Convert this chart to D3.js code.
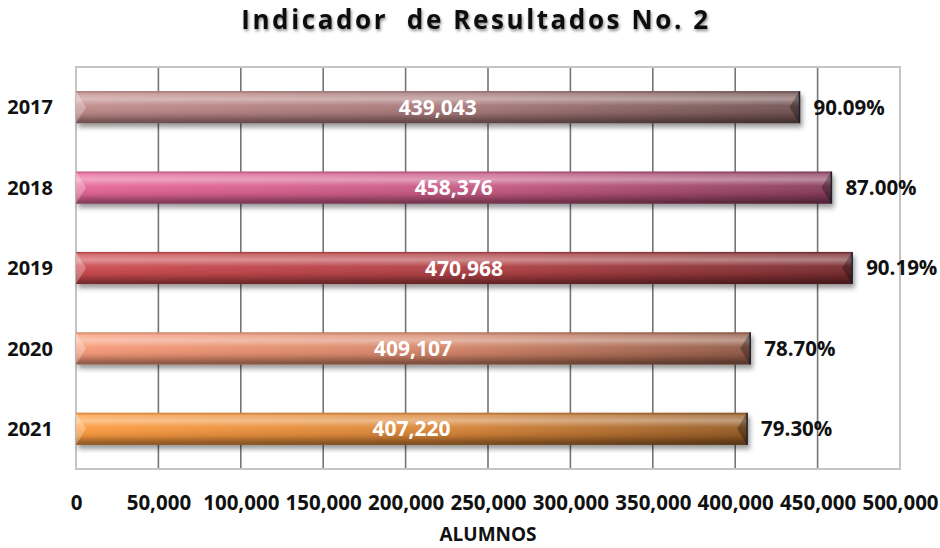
<!DOCTYPE html>
<html>
<head>
<meta charset="utf-8">
<script src="https://cdn.jsdelivr.net/npm/d3@7"></script>
<style>
  body { margin: 0; background: #fff; }
  text { font-family: "Open Sans", sans-serif; font-weight: bold; }
</style>
</head>
<body>
<div id="root"></div>
<script>
const years = ["2017", "2018", "2019", "2020", "2021"];
const alumnos = [439043, 458376, 470968, 409107, 407220];
const porcentajes = ["90.09%", "87.00%", "90.19%", "78.70%", "79.30%"];
const ticks = [0, 50000, 100000, 150000, 200000, 250000, 300000, 350000, 400000, 450000, 500000];
const barColors = ["#b98585", "#dc6392", "#c2474c", "#ec9474", "#f0943e"];

const data = years.map((y, i) => ({ year: y, value: alumnos[i], pct: porcentajes[i], color: barColors[i] }));

const margin = { top: 67, right: 40, bottom: 79, left: 76 };
const width = 900 - margin.left;
const height = 469 - margin.top;

const x = d3.scaleLinear().domain([0, 500000]).range([0, width]);
const y = d3.scaleBand().domain(years).range([0, height]).paddingInner(0.6).paddingOuter(0.3);

const root = d3.select("#root")
  .append("svg")
  .attr("width", 940)
  .attr("height", 548);

const defs = root.append("defs");

// sombra del título y de las barras
const titleShadow = defs.append("filter").attr("id", "titleShadow")
  .attr("x", "-5%").attr("y", "-30%").attr("width", "110%").attr("height", "160%");
titleShadow.append("feDropShadow")
  .attr("dx", 1).attr("dy", 2).attr("stdDeviation", 1.5)
  .attr("flood-color", "#000").attr("flood-opacity", 0.45);

const barShadow = defs.append("filter").attr("id", "barShadow")
  .attr("x", "-5%").attr("y", "-30%").attr("width", "110%").attr("height", "180%");
barShadow.append("feDropShadow")
  .attr("dx", 2).attr("dy", 4).attr("stdDeviation", 2.5)
  .attr("flood-color", "#000").attr("flood-opacity", 0.4);

// brillo vertical (cilindro)
const shine = defs.append("linearGradient").attr("id", "shine")
  .attr("x1", 0).attr("y1", 0).attr("x2", 0).attr("y2", 1);
[
  [0, "#000", 0.15],
  [0.08, "#fff", 0.2],
  [0.25, "#fff", 0.4],
  [0.45, "#fff", 0.05],
  [0.7, "#000", 0.08],
  [0.9, "#000", 0.35],
  [1, "#000", 0.45],
].forEach(([o, c, a]) =>
  shine.append("stop").attr("offset", o).attr("stop-color", c).attr("stop-opacity", a)
);

data.forEach((d, i) => {
  const g = defs.append("linearGradient").attr("id", "barGrad" + i)
    .attr("x1", 0).attr("y1", 0).attr("x2", 1).attr("y2", 0);
  g.append("stop").attr("offset", 0).attr("stop-color", d3.color(d.color).brighter(0.15));
  g.append("stop").attr("offset", 0.55).attr("stop-color", d3.color(d.color).darker(0.3));
  g.append("stop").attr("offset", 1).attr("stop-color", d3.color(d.color).darker(1.3));
});

// título
root.append("text")
  .attr("x", 476)
  .attr("y", 29)
  .attr("text-anchor", "middle")
  .attr("font-size", "26px")
  .attr("letter-spacing", "2.6px")
  .attr("fill", "#111")
  .attr("filter", "url(#titleShadow)")
  .style("white-space", "pre")
  .text("Indicador  de Resultados No. 2");

const svg = root.append("g")
  .attr("transform", `translate(${margin.left}, ${margin.top})`);

// cuadrícula
svg.append("g")
  .selectAll("line")
  .data(ticks.slice(1, -1))
  .enter()
  .append("line")
  .attr("x1", (d) => x(d))
  .attr("x2", (d) => x(d))
  .attr("y1", 0)
  .attr("y2", height)
  .attr("stroke", "#757575")
  .attr("stroke-width", 1.6);

svg.append("rect")
  .attr("x", 0)
  .attr("y", 0)
  .attr("width", width)
  .attr("height", height)
  .attr("fill", "none")
  .attr("stroke", "#c4c4c4")
  .attr("stroke-width", 2);

// eje x
const xAxis = d3.axisBottom(x)
  .tickValues(ticks)
  .tickFormat(d3.format(","))
  .tickSize(0)
  .tickPadding(0);

svg.append("g")
  .attr("class", "x-axis")
  .attr("transform", `translate(0, ${height + 41})`)
  .call(xAxis)
  .call((g) => g.select(".domain").remove())
  .selectAll("text")
  .attr("font-size", "20.5px")
  .attr("font-family", "Open Sans, sans-serif")
  .attr("font-weight", "bold")
  .attr("fill", "#111")
  .attr("dy", "0")
  .attr("y", 0);

// eje y
svg.append("g")
  .selectAll("text")
  .data(data)
  .enter()
  .append("text")
  .attr("x", -23)
  .attr("y", (d) => y(d.year) + y.bandwidth() / 2)
  .attr("dy", "0.36em")
  .attr("text-anchor", "end")
  .attr("font-size", "20px")
  .attr("fill", "#111")
  .text((d) => d.year);

// barras
const bars = svg.append("g")
  .selectAll(".bar")
  .data(data)
  .enter()
  .append("g")
  .attr("class", "bar")
  .attr("filter", "url(#barShadow)");

bars.append("rect")
  .attr("x", 0)
  .attr("y", (d) => y(d.year))
  .attr("width", (d) => x(d.value))
  .attr("height", y.bandwidth())
  .attr("fill", (d, i) => `url(#barGrad${i})`);

bars.append("rect")
  .attr("x", 0)
  .attr("y", (d) => y(d.year))
  .attr("width", (d) => x(d.value))
  .attr("height", y.bandwidth())
  .attr("fill", "url(#shine)");

const bevel = 10;
bars.append("path")
  .attr("d", (d) => {
    const y0 = y(d.year), y1 = y0 + y.bandwidth();
    return `M0,${y0}L${bevel},${(y0 + y1) / 2}L0,${y1}Z`;
  })
  .attr("fill", "#fff")
  .attr("fill-opacity", 0.28);

bars.append("path")
  .attr("d", (d) => {
    const y0 = y(d.year), y1 = y0 + y.bandwidth(), xe = x(d.value);
    return `M${xe},${y0}L${xe - bevel},${(y0 + y1) / 2}L${xe},${y1}Z`;
  })
  .attr("fill", "#000")
  .attr("fill-opacity", 0.3);

bars.append("line")
  .attr("x1", (d) => x(d.value))
  .attr("x2", (d) => x(d.value))
  .attr("y1", (d) => y(d.year))
  .attr("y2", (d) => y(d.year) + y.bandwidth())
  .attr("stroke", "#1c2030")
  .attr("stroke-width", 1.5);

// etiquetas de valor
svg.append("g")
  .selectAll("text")
  .data(data)
  .enter()
  .append("text")
  .attr("x", (d) => x(d.value) / 2)
  .attr("y", (d) => y(d.year) + y.bandwidth() / 2)
  .attr("dy", "0.36em")
  .attr("text-anchor", "middle")
  .attr("font-size", "21px")
  .attr("fill", "#fff")
  .text((d) => d3.format(",")(d.value));

// porcentajes
svg.append("g")
  .selectAll("text")
  .data(data)
  .enter()
  .append("text")
  .attr("x", (d) => x(d.value) + 14)
  .attr("y", (d) => y(d.year) + y.bandwidth() / 2)
  .attr("dy", "0.36em")
  .attr("font-size", "20.5px")
  .attr("fill", "#111")
  .text((d) => d.pct);

// título del eje
root.append("text")
  .attr("x", 488)
  .attr("y", 541)
  .attr("text-anchor", "middle")
  .attr("font-size", "19px")
  .attr("fill", "#111")
  .text("ALUMNOS");
</script>
</body>
</html>
